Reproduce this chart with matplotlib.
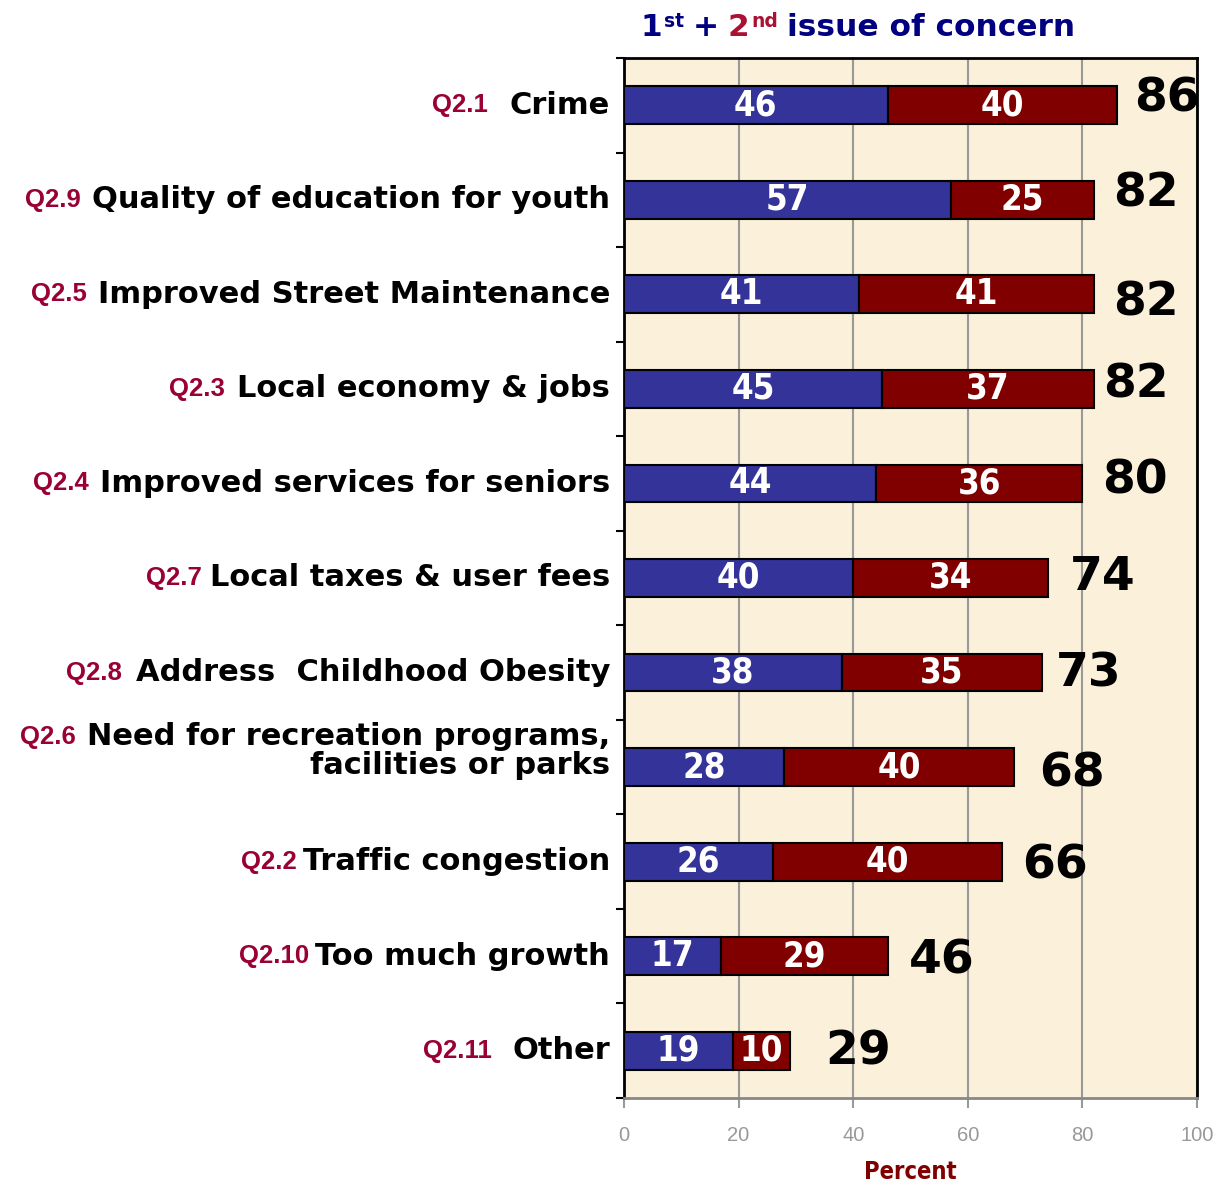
import numpy as np
import matplotlib
matplotlib.use('Agg')
import matplotlib.pyplot as plt

plt.rcParams['font.family'] = ['DejaVu Sans']

# ---- data ----
codes = ['Q2.1', 'Q2.9', 'Q2.5', 'Q2.3', 'Q2.4', 'Q2.7', 'Q2.8', 'Q2.6', 'Q2.2', 'Q2.10', 'Q2.11']
issues = ['Crime', 'Quality of education for youth', 'Improved Street Maintenance',
          'Local economy & jobs', 'Improved services for seniors', 'Local taxes & user fees',
          'Address  Childhood Obesity', 'Need for recreation programs,\nfacilities or parks',
          'Traffic congestion', 'Too much growth', 'Other']
first = [46, 57, 41, 45, 44, 40, 38, 28, 26, 17, 19]
second = [40, 25, 41, 37, 36, 34, 35, 40, 40, 29, 10]
totals = [86, 82, 82, 82, 80, 74, 73, 68, 66, 46, 29]

# label placement tweaks (data units in x, pixels in y, + = down)
total_dx = [3.1, 3.3, 3.3, 1.6, 3.5, 3.8, 2.3, 4.4, 3.5, 3.8, 6.1]
total_dy = [-6, -6, 9, -4, -2, -1, 1, 7, 4, 5, 1]
code_gap = [22, 11, 11, 12, 11, 8, 14, 11, 6, 6, 20]

BLUE = '#333399'
RED = '#800000'
CODE = '#990033'
NAVY = '#000080'
NARROW = ['Liberation Sans Narrow', 'DejaVu Sans']

fig = plt.figure(figsize=(12.19, 11.82), dpi=100)
ax = fig.add_axes([624 / 1219, 1 - 1098 / 1182, 573 / 1219, 1040 / 1182])
ax.set_facecolor('#FBF0D9')

y = np.arange(len(codes))
bh = 0.40
b1 = ax.barh(y, first, height=bh, color=BLUE, edgecolor='black', linewidth=1.5, zorder=3)
b2 = ax.barh(y, second, left=first, height=bh, color=RED, edgecolor='black', linewidth=1.5, zorder=3)

ax.set_xlim(0, 100)
ax.set_ylim(len(codes) - 0.5, -0.5)
ax.set_xticks([0, 20, 40, 60, 80, 100])
ax.tick_params(axis='x', colors='#999999', labelsize=14.5, length=7, width=1.5, pad=13)
ax.set_yticks([])
ax.set_yticks(np.arange(-0.5, len(codes)), minor=True)
ax.tick_params(axis='y', which='minor', length=6, width=1.5, color='black', labelleft=False)
ax.xaxis.grid(True, color='#999999', linewidth=1.5, zorder=0)
ax.set_axisbelow(True)
for s in ['top', 'right', 'left']:
    ax.spines[s].set_color('black')
    ax.spines[s].set_linewidth(2)
ax.spines['bottom'].set_color('#888888')
ax.spines['bottom'].set_linewidth(2)

for lab in ax.get_xticklabels():
    lab.set_fontfamily('Liberation Sans')

ax.set_xlabel('Percent', color=RED, fontsize=17, fontweight='bold', family=NARROW,
              fontstretch='condensed', labelpad=11)

# values inside the bars
for bars, vals in ((b1, first), (b2, second)):
    for rect, v in zip(bars, vals):
        t = ax.text(rect.get_x() + rect.get_width() / 2, rect.get_y() + rect.get_height() / 2,
                    str(v), ha='center', va='center', color='white', fontsize=25,
                    fontweight='bold', family=NARROW, fontstretch='condensed', zorder=4)
        t.set_clip_path(rect)

# totals
for i, tot in enumerate(totals):
    ax.annotate(str(tot), xy=(tot + total_dx[i], i), xytext=(0, -total_dy[i]),
                textcoords='offset pixels', ha='left', va='center', fontsize=34,
                fontweight='bold', color='black', annotation_clip=False)

# category labels: red code + bold text
lx = (610 - 624) / 573
for i, (code, txt) in enumerate(zip(codes, issues)):
    multi = '\n' in txt
    yy = i - 0.17 if multi else i
    lab = ax.text(lx, yy, txt, transform=ax.get_yaxis_transform(), ha='right', va='center',
                  fontsize=22, fontweight='bold', color='black', linespacing=1.0)
    ax.annotate(code, xy=(0, 0.75 if multi else 0.5), xycoords=lab,
                xytext=(-code_gap[i], 0), textcoords='offset pixels',
                ha='right', va='center', fontsize=18.5, fontweight='bold',
                family='Liberation Sans', color=CODE)

# title: 1st + 2nd issue of concern
prev = fig.text(640 / 1219, 1 - 36 / 1182, '1', fontsize=22.5, fontweight='bold', color=NAVY,
                ha='left', va='baseline')
pieces = [('st', 13.5, NAVY, 2, 11), ('+', 22.5, NAVY, 9, -11), ('2', 22.5, '#AA1133', 9, 0),
          ('nd', 13.5, '#AA1133', 2, 11), ('issue of concern', 22.5, NAVY, 9, -11)]
for txt, size, col, gap, dy in pieces:
    prev = ax.annotate(txt, xy=(1, 0), xycoords=prev, xytext=(gap, dy),
                       textcoords='offset pixels', ha='left', va='bottom',
                       fontsize=size, fontweight='bold', color=col, annotation_clip=False)

fig.savefig('out.png', dpi=100)
